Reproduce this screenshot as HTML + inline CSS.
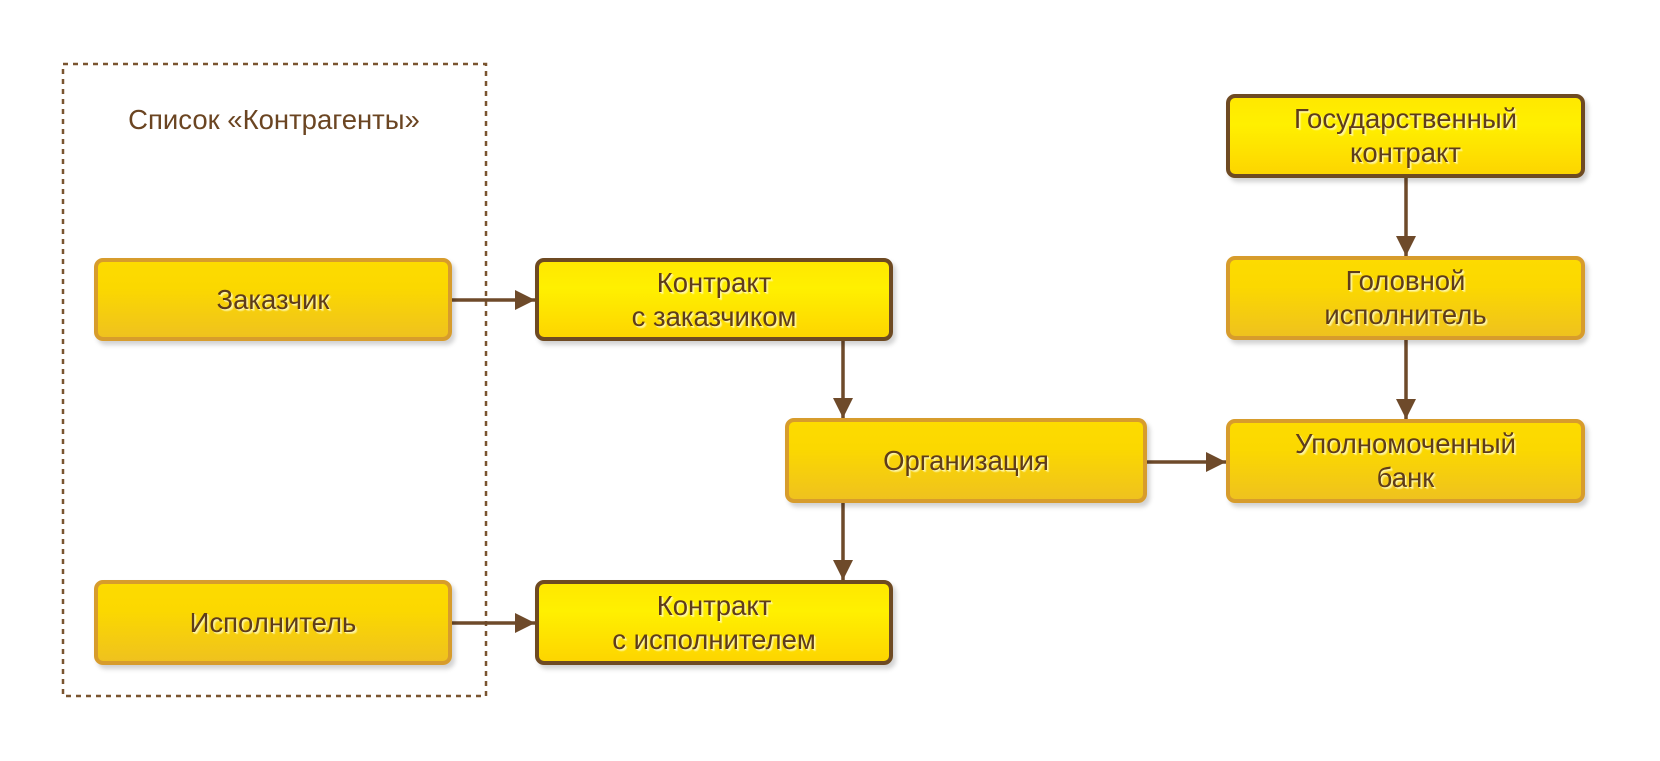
<!DOCTYPE html>
<html><head><meta charset="utf-8"><style>
body{margin:0;width:1660px;height:761px;background:#fff;position:relative;overflow:hidden;font-family:"Liberation Sans","DejaVu Sans",sans-serif;}
.b{position:absolute;box-sizing:border-box;border-radius:9px;display:flex;align-items:center;justify-content:center;text-align:center;font-size:27.5px;line-height:34px;color:#5e3c1a;text-shadow:1px 1px 0 #fff6a0,2px 2px 1px rgba(255,255,200,.6);box-shadow:3px 4px 5px rgba(0,0,0,.18);}
.l{border:4px solid #d79c2c;background:linear-gradient(#fddb00 0%,#fbd800 35%,#efc21e 100%);}
.d{border:4px solid #6e4a22;background:linear-gradient(#ffe800 0%,#fff000 35%,#fdd500 100%);}
.t{position:absolute;left:62px;width:424px;top:104px;text-align:center;font-size:27.5px;color:#6b4522;}
</style></head><body>
<svg width="1660" height="761" style="position:absolute;left:0;top:0">
<defs><marker id="m" viewBox="0 0 10 10" markerWidth="20" markerHeight="20" refX="10" refY="5" orient="auto" markerUnits="userSpaceOnUse" preserveAspectRatio="none"><path d="M0,0 L10,5 L0,10 z" fill="#6e4a2a"/></marker></defs>
<rect x="63" y="64" width="423" height="632" fill="none" stroke="#7a5530" stroke-width="2.5" stroke-dasharray="5,5"/>
<g stroke="#6e4a2a" stroke-width="3.5" fill="none">
<line x1="452" y1="300" x2="535" y2="300" marker-end="url(#m)"/>
<line x1="452" y1="623" x2="535" y2="623" marker-end="url(#m)"/>
<line x1="843" y1="341" x2="843" y2="418" marker-end="url(#m)"/>
<line x1="843" y1="503" x2="843" y2="580" marker-end="url(#m)"/>
<line x1="1147" y1="462" x2="1226" y2="462" marker-end="url(#m)"/>
<line x1="1406" y1="178" x2="1406" y2="256" marker-end="url(#m)"/>
<line x1="1406" y1="340" x2="1406" y2="419" marker-end="url(#m)"/>
</g></svg>
<div class="t">Список «Контрагенты»</div>
<div class="b l" style="left:94px;top:258px;width:358px;height:83px">Заказчик</div>
<div class="b l" style="left:94px;top:580px;width:358px;height:85px">Исполнитель</div>
<div class="b d" style="left:535px;top:258px;width:358px;height:83px">Контракт<br>с заказчиком</div>
<div class="b d" style="left:535px;top:580px;width:358px;height:85px">Контракт<br>с исполнителем</div>
<div class="b l" style="left:785px;top:418px;width:362px;height:85px">Организация</div>
<div class="b d" style="left:1226px;top:94px;width:359px;height:84px">Государственный<br>контракт</div>
<div class="b l" style="left:1226px;top:256px;width:359px;height:84px">Головной<br>исполнитель</div>
<div class="b l" style="left:1226px;top:419px;width:359px;height:84px">Уполномоченный<br>банк</div>
</body></html>
